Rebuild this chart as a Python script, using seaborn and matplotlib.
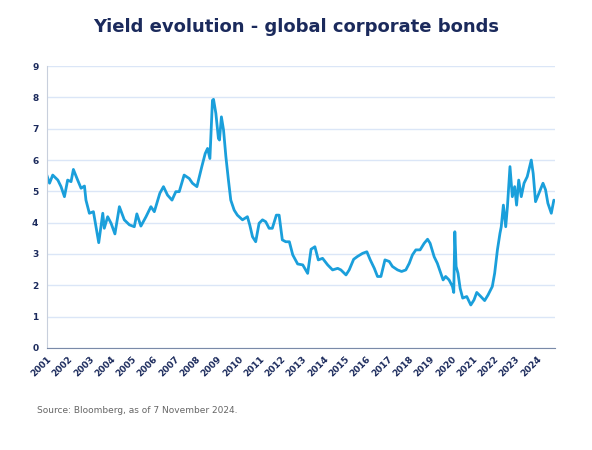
import numpy as np
import pandas as pd
import matplotlib
matplotlib.use("Agg")
import matplotlib.pyplot as plt
import seaborn as sns

years = [2001.0,2001.13,2001.28,2001.52,2001.67,2001.83,2001.98,2002.14,2002.25,2002.45,2002.61,2002.77,2002.84,
 2003.0,2003.19,2003.31,2003.44,2003.63,2003.7,2003.86,2004.02,2004.2,2004.41,2004.64,2004.88,2005.11,2005.23,
 2005.42,2005.66,2005.89,2006.05,2006.31,2006.48,2006.67,2006.88,2007.06,2007.22,2007.45,2007.69,2007.84,2008.05,
 2008.28,2008.44,2008.55,2008.66,2008.78,2008.83,2008.94,2009.06,2009.11,2009.2,2009.3,2009.41,2009.53,2009.64,
 2009.8,2009.95,2010.19,2010.42,2010.53,2010.66,2010.81,2010.97,2011.13,2011.28,2011.44,2011.59,2011.78,2011.91,
 2012.06,2012.22,2012.39,2012.55,2012.78,2013.02,2013.25,2013.41,2013.59,2013.75,2013.95,2014.19,2014.42,2014.66,
 2014.81,2015.05,2015.2,2015.41,2015.59,2015.83,2016.03,2016.19,2016.38,2016.53,2016.69,2016.88,2017.08,2017.23,
 2017.47,2017.66,2017.86,2018.02,2018.17,2018.33,2018.53,2018.72,2018.88,2019.0,2019.19,2019.34,2019.5,2019.61,
 2019.73,2019.89,2020.05,2020.11,2020.16,2020.22,2020.31,2020.41,2020.53,2020.72,2020.91,2021.06,2021.19,2021.38,
 2021.56,2021.72,2021.92,2022.03,2022.16,2022.28,2022.34,2022.44,2022.55,2022.63,2022.75,2022.86,2022.97,2023.06,
 2023.16,2023.28,2023.41,2023.56,2023.75,2023.84,2023.95,2024.11,2024.3,2024.42,2024.53,2024.69,2024.81]
yields = [5.52,5.26,5.52,5.36,5.15,4.83,5.36,5.31,5.70,5.36,5.10,5.17,4.72,
 4.30,4.35,3.87,3.36,4.30,3.82,4.19,3.98,3.64,4.51,4.09,3.93,3.87,4.28,
 3.89,4.19,4.51,4.35,4.94,5.15,4.88,4.72,4.99,4.99,5.52,5.41,5.26,5.15,
 5.79,6.21,6.37,6.05,7.91,7.94,7.49,6.69,6.64,7.38,6.96,6.11,5.36,4.72,
 4.40,4.24,4.09,4.19,3.93,3.55,3.39,3.98,4.09,4.03,3.82,3.82,4.24,4.24,
 3.45,3.39,3.39,2.97,2.68,2.65,2.38,3.15,3.23,2.81,2.86,2.65,2.49,2.54,
 2.49,2.33,2.49,2.83,2.92,3.02,3.07,2.81,2.54,2.28,2.28,2.81,2.76,2.60,
 2.49,2.44,2.49,2.70,2.97,3.13,3.13,3.34,3.47,3.34,2.91,2.70,2.38,2.17,
 2.28,2.17,1.96,1.77,3.71,2.60,2.38,1.90,1.59,1.64,1.37,1.53,1.77,1.64,
 1.51,1.69,1.96,2.38,3.13,3.66,3.87,4.56,3.87,4.51,5.79,4.83,5.15,4.56,
 5.36,4.83,5.26,5.47,6.00,5.57,4.67,4.94,5.26,5.05,4.62,4.30,4.72]
tick_labels = [str(y) for y in range(2001, 2025)]

df = pd.DataFrame({"year": years, "yield": yields})
sns.set_style("white")
navy = "#1b2a5c"
fig = plt.figure(figsize=(5.92, 4.5), dpi=100)
ax = fig.add_axes([0.079, 0.227, 0.858, 0.626])
sns.lineplot(data=df, x="year", y="yield", ax=ax, color="#1a9fdb", linewidth=2)
ax.set_xlim(2001, 2024.85)
ax.set_ylim(0, 9)
ax.set_yticks(range(0, 10))
ax.set_xticks(range(2001, 2025))
ax.set_xticklabels(tick_labels, rotation=45, ha="right", rotation_mode="anchor")
for lab in ax.get_xticklabels() + ax.get_yticklabels():
    lab.set_fontsize(6.5); lab.set_fontweight("bold"); lab.set_color(navy)
ax.yaxis.grid(True, color="#dbe6f7", linewidth=1)
ax.set_axisbelow(True)
ax.set_xlabel(""); ax.set_ylabel("")
for s in ["top", "right"]:
    ax.spines[s].set_visible(False)
ax.spines["bottom"].set_color("#7a8aa8")
ax.spines["left"].set_color("#c8cfdc")
ax.tick_params(axis="x", length=3, color="#7a8aa8", pad=2)
ax.tick_params(axis="y", length=0, pad=6)
fig.text(0.5, 0.93, "Yield evolution - global corporate bonds", ha="center", fontsize=13,
         fontweight="bold", color=navy)
fig.text(0.062, 0.083, "Source: Bloomberg, as of 7 November 2024.", fontsize=6.5, color="#666666")
fig.savefig("out.png", dpi=100)
